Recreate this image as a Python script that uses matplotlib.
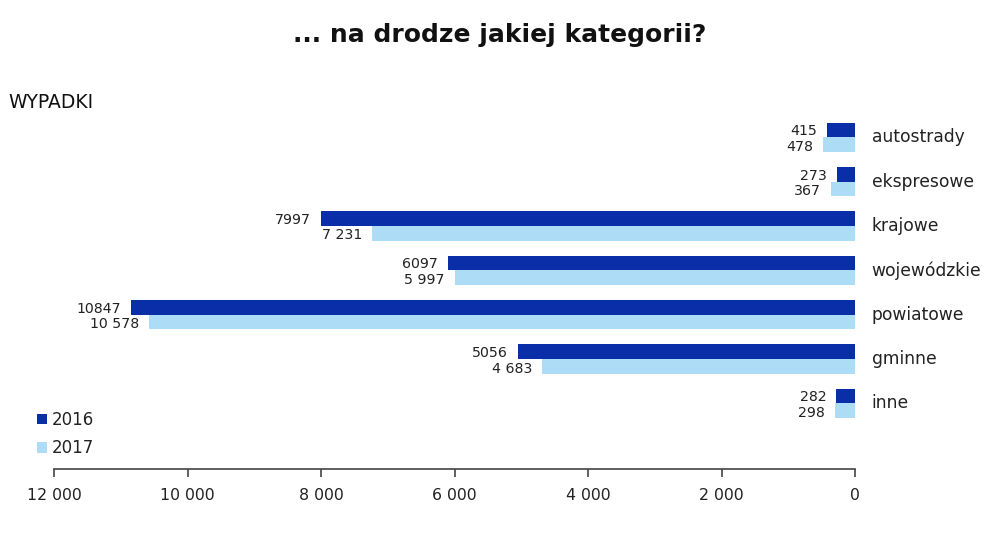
import matplotlib
matplotlib.use("Agg")
import matplotlib.pyplot as plt
import numpy as np

categories = ["autostrady", "ekspresowe", "krajowe", "wojewódzkie", "powiatowe", "gminne", "inne"]
v2016 = [415, 273, 7997, 6097, 10847, 5056, 282]
v2017 = [478, 367, 7231, 5997, 10578, 4683, 298]
labels2016 = ["415", "273", "7997", "6097", "10847", "5056", "282"]
labels2017 = ["478", "367", "7 231", "5 997", "10 578", "4 683", "298"]
xticks = [12000, 10000, 8000, 6000, 4000, 2000, 0]
xticklabels = ["12 000", "10 000", "8 000", "6 000", "4 000", "2 000", "0"]

c16 = "#0a2ea8"
c17 = "#addcf7"
txt = "#222222"

plt.rcParams['font.family'] = ['DejaVu Sans']
fig = plt.figure(figsize=(10, 5.34), dpi=100)
ax = fig.add_axes([0.054, 0.1217, 0.801, 0.663])

y = np.arange(len(categories))
h = 0.33
ax.barh(y - h / 2, v2016, height=h, color=c16, label="2016")
ax.barh(y + h / 2, v2017, height=h, color=c17, label="2017")

for i in range(len(categories)):
    ax.text(v2016[i] + 150, y[i] - h / 2 + 0.03, labels2016[i], ha="right", va="center",
            fontsize=10.2, color=txt)
    ax.text(v2017[i] + 150, y[i] + h / 2 + 0.05, labels2017[i], ha="right", va="center",
            fontsize=10.2, color=txt)
    ax.text(-250, y[i], categories[i], ha="left", va="center", fontsize=12.3, color=txt)

ax.set_xlim(12000, 0)
ax.set_ylim(7.48, -0.5)
ax.set_xticks(xticks)
ax.set_xticklabels(xticklabels, fontsize=11.3, color=txt)
ax.set_yticks([])
for s in ["top", "right", "left"]:
    ax.spines[s].set_visible(False)
ax.spines["bottom"].set_color("#444444")
ax.spines["bottom"].set_linewidth(1.2)
ax.tick_params(axis="x", direction="out", length=6, width=1.2, color="#444444", pad=8)

leg = ax.legend(loc="lower left", bbox_to_anchor=(-0.036, 0.0), frameon=False,
                fontsize=12, handlelength=0.6, handleheight=0.6, handletextpad=0.3,
                labelspacing=0.62, borderaxespad=0.3)
for t in leg.get_texts():
    t.set_color(txt)

fig.text(0.5, 0.935, "... na drodze jakiej kategorii?", ha="center", va="center",
         fontsize=18, fontweight="bold", color="#111111")
fig.text(0.008, 0.808, "WYPADKI", ha="left", va="center", fontsize=13.5, color="#111111")

fig.savefig("out.png", dpi=100)
